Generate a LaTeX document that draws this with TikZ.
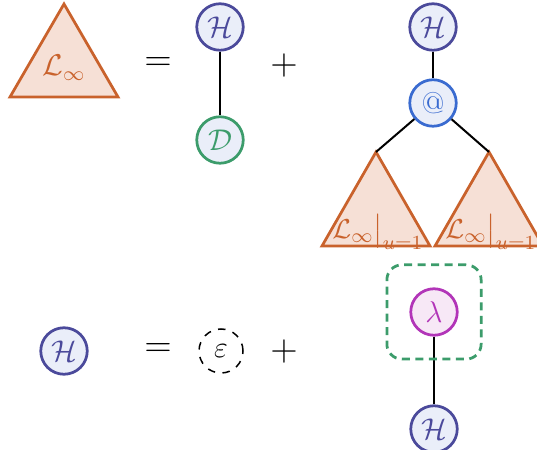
\documentclass[tikz,border=0pt,12pt]{standalone}
\usepackage{amsmath}
\usepackage{amssymb}
\usetikzlibrary{fit}

\definecolor{orng}{HTML}{C9622C}
\definecolor{orngfill}{HTML}{F6E0D6}
\definecolor{hcol}{HTML}{4B4A9B}
\definecolor{nodefill}{HTML}{EAEEF9}
\definecolor{dcol}{HTML}{3C9C6B}
\definecolor{appcol}{HTML}{3A6BD0}
\definecolor{lamcol}{HTML}{B235B8}
\definecolor{lamfill}{HTML}{F7E8F6}

\begin{document}
\begin{tikzpicture}[x=0.4pt, y=-0.4pt,
        vert/.style={circle, line width=1.1pt, minimum size=18.6pt, inner sep=0pt, fill=nodefill},
        hole/.style={vert, draw=hcol, text=hcol},
        dot/.style={vert, draw=dcol, text=dcol},
        app/.style={vert, draw=appcol, text=appcol},
        lam/.style={vert, draw=lamcol, fill=lamfill, text=lamcol},
        tri/.style={line width=1.1pt, draw=orng, fill=orngfill, line join=miter},
        trilab/.style={text=orng, font=\small, inner sep=1pt},
        op/.style={font=\large},
        edge/.style={line width=0.8pt}]
    \useasboundingbox (0,0) rectangle (537,450);
    % first equation
    \coordinate (Ltop) at (64,4);
    \draw [tri] (Ltop) -- ++(-54,93) -- ++(108,0) -- cycle;
    \node (L) [text=orng] at (64,68) {$\mathcal{L}_\infty$};
    \node (eqa) [op] at (158,64) {$=$};
    \node (ha) [hole] at (220,27) {$\mathcal{H}$};
    \node (d) [dot] at (220,140) {$\mathcal{D}$};
    \node (plusa) [op] at (284,66) {$+$};
    \node (hb) [hole] at (433,27) {$\mathcal{H}$};
    \node (at) [app] at (433,103) {@};
    \coordinate (tltop) at (376,152);
    \coordinate (trtop) at (489,152);
    \draw [tri] (tltop) -- ++(-54,94) -- ++(108,0) -- cycle;
    \draw [tri] (trtop) -- ++(-54,94) -- ++(108,0) -- cycle;
    \node (tllab) [trilab] at (378,232) {$\mathcal{L}_\infty\big|_{u=1}$};
    \node (trlab) [trilab] at (491,232) {$\mathcal{L}_\infty\big|_{u=1}$};
    \draw [edge] (ha) -- (d);
    \draw [edge] (hb) -- (at);
    \draw [edge] (at) -- (tltop);
    \draw [edge] (at) -- (trtop);
    % second equation
    \node (hc) [hole] at (64,351) {$\mathcal{H}$};
    \node (eqb) [op] at (158,350) {$=$};
    \node (eps) [circle, draw, dashed, line width=0.6pt, minimum size=17.6pt, inner sep=0pt] at (221,351) {$\varepsilon$};
    \node (plusb) [op] at (284,352) {$+$};
    \node (lm) [lam] at (434,312) {$\lambda$};
    \node (hd) [hole] at (434,429) {$\mathcal{H}$};
    \draw [edge] (lm) -- (hd);
    \node (box) [draw=dcol, line width=1.1pt, dash pattern=on 3.2pt off 2.2pt, rounded corners=6pt,
        inner sep=9pt, fit=(lm)] {};
\end{tikzpicture}
\end{document}
